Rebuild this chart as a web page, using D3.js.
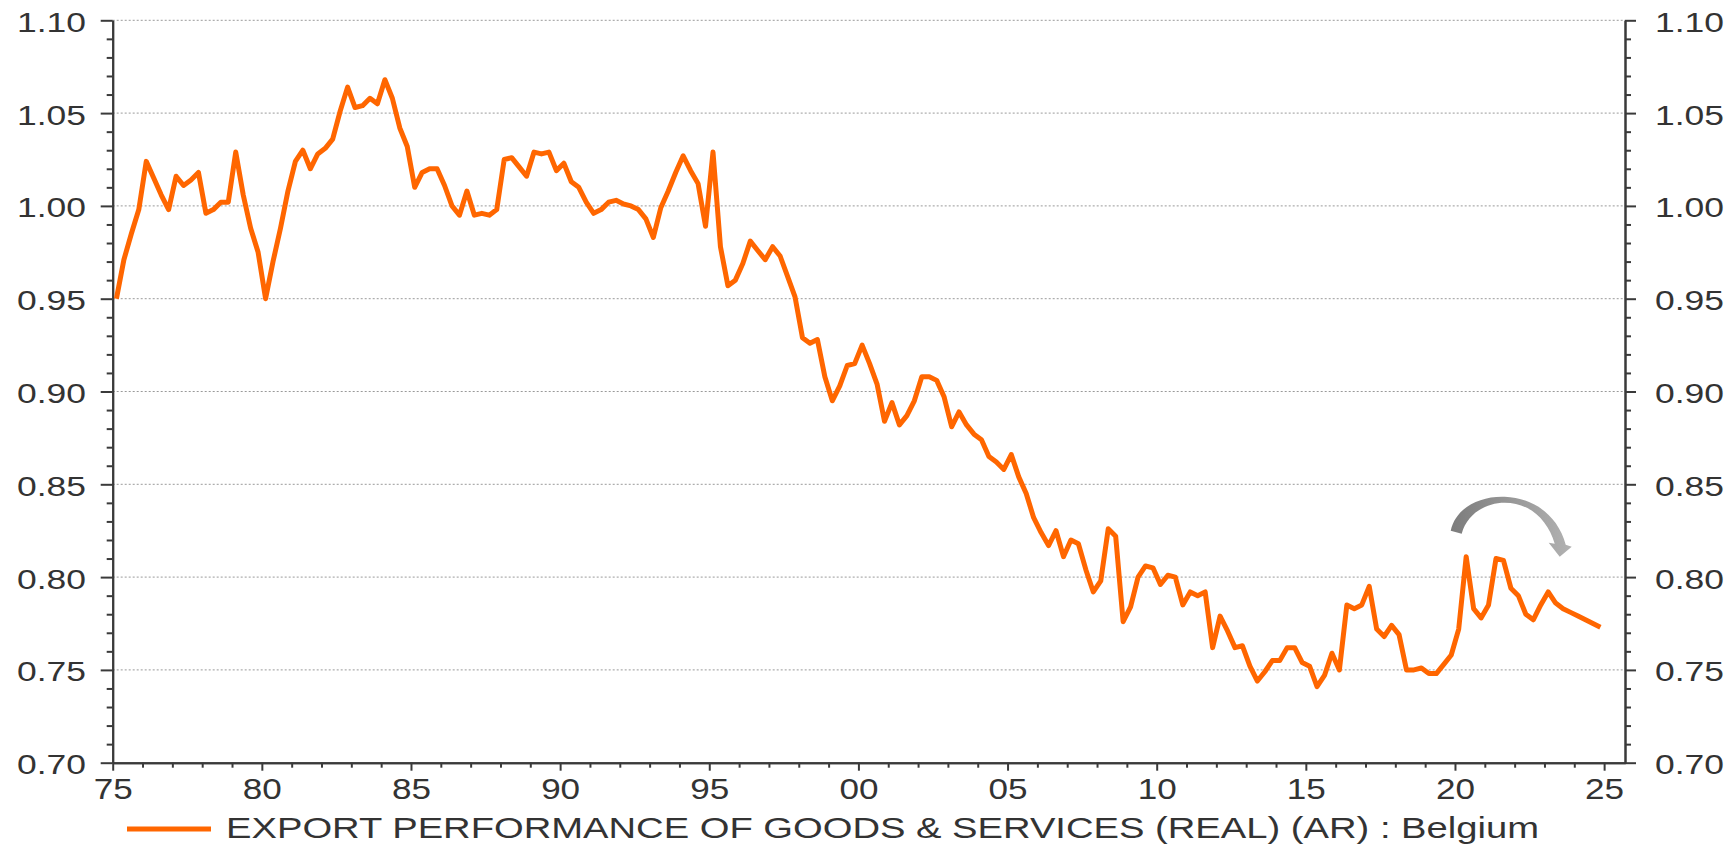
<!DOCTYPE html>
<html>
<head>
<meta charset="utf-8">
<script src="https://cdn.jsdelivr.net/npm/d3@7"></script>
<style>
  body { margin: 0; background: #fff; }
  svg { display: block; font-family: "Liberation Sans", Arial, Helvetica, sans-serif; }
</style>
</head>
<body>
<div id="plot"></div>
<script>
// quarterly values, one array per decade (Q1..Q4 of each year)
const values1975 = [
  0.950, 0.971, 0.985, 0.998,  1.024, 1.015, 1.006, 0.998,  1.016, 1.011, 1.014, 1.018,
  0.996, 0.998, 1.002, 1.002,  1.029, 1.006, 0.988, 0.975,  0.950, 0.970, 0.988, 1.008,
  1.024, 1.030, 1.020, 1.028,  1.031, 1.036, 1.051, 1.064,  1.053, 1.054, 1.058, 1.055,
  1.068, 1.058, 1.042, 1.032
];
const values1985 = [
  1.010, 1.018, 1.020, 1.020,  1.011, 1.000, 0.995, 1.008,  0.995, 0.996, 0.995, 0.998,
  1.025, 1.026, 1.021, 1.016,  1.029, 1.028, 1.029, 1.019,  1.023, 1.013, 1.010, 1.002,
  0.996, 0.998, 1.002, 1.003,  1.001, 1.000, 0.998, 0.993,  0.983, 0.999, 1.008, 1.018,
  1.027, 1.019, 1.012, 0.989
];
const values1995 = [
  1.029, 0.978, 0.957, 0.960,  0.969, 0.981, 0.976, 0.971,  0.978, 0.973, 0.962, 0.951,
  0.929, 0.926, 0.928, 0.908,  0.895, 0.903, 0.914, 0.915,  0.925, 0.915, 0.904, 0.884,
  0.894, 0.882, 0.887, 0.895,  0.908, 0.908, 0.906, 0.897,  0.881, 0.889, 0.882, 0.877,
  0.874, 0.865, 0.862, 0.858
];
const values2005 = [
  0.866, 0.854, 0.845, 0.832,  0.824, 0.817, 0.825, 0.811,  0.820, 0.818, 0.804, 0.792,
  0.798, 0.826, 0.822, 0.776,  0.784, 0.800, 0.806, 0.805,  0.796, 0.801, 0.800, 0.785,
  0.792, 0.790, 0.792, 0.762,  0.779, 0.771, 0.762, 0.763,  0.752, 0.744, 0.749, 0.755,
  0.755, 0.762, 0.762, 0.754
];
const values2015 = [
  0.752, 0.741, 0.747, 0.759,  0.750, 0.785, 0.783, 0.785,  0.795, 0.772, 0.768, 0.774,
  0.769, 0.750, 0.750, 0.751,  0.748, 0.748, 0.753, 0.758,  0.772, 0.811, 0.783, 0.778,
  0.785, 0.810, 0.809, 0.794,  0.790, 0.780, 0.777, 0.785,  0.792, 0.786, 0.783, 0.781,
  0.779, 0.777, 0.775, 0.773
];
const firstYear = 1975;
const seriesName = "EXPORT PERFORMANCE OF GOODS & SERVICES (REAL) (AR) : Belgium";

const yMajorTicks = [0.70, 0.75, 0.80, 0.85, 0.90, 0.95, 1.00, 1.05, 1.10];
const xMajorTicks = [1975, 1980, 1985, 1990, 1995, 2000, 2005, 2010, 2015, 2020, 2025];
const xTickLabels = ["75", "80", "85", "90", "95", "00", "05", "10", "15", "20", "25"];

const w = 1735;
const h = 845;
const plotLeft = 112.7, plotRight = 1625, plotTop = 20.3, plotBottom = 762.7;
const axisColor = "#3a3a3a";
const textColor = "#333";
const lineColor = "#ff6600";

// dataset: each quarter plotted at mid-quarter
const allValues = [].concat(values1975, values1985, values1995, values2005, values2015);
const data = allValues.map((v, i) => ({ t: firstYear + (i + 0.5) / 4, v: v }));

const x = d3.scaleLinear().domain([1975, 2025.7]).range([plotLeft, plotRight]);
const y = d3.scaleLinear().domain([0.70, 1.10]).range([plotBottom, plotTop]);

const svg = d3.select("#plot")
  .append("svg")
  .attr("width", w)
  .attr("height", h);

//---------------------------grid---------------------------
svg.append("g")
  .selectAll("line")
  .data(yMajorTicks.filter(d => d > 0.70))
  .enter()
  .append("line")
  .attr("x1", plotLeft)
  .attr("x2", plotRight)
  .attr("y1", d => y(d))
  .attr("y2", d => y(d))
  .attr("stroke", "#9a9a9a")
  .attr("stroke-width", 1)
  .attr("stroke-dasharray", "2,2");

//---------------------------axes---------------------------
const yMinor = d3.range(70, 111).map(d => d / 100).filter(d => Math.round(d * 100) % 5 !== 0);
const xMinor = d3.range(1975, 2026).filter(d => d % 5 !== 0);

function styleAxis(g) {
  g.attr("font-family", null).attr("font-size", null);
  g.selectAll("path, line").attr("stroke", axisColor).attr("stroke-width", 2);
  g.selectAll("text").attr("fill", textColor);
}

// left
svg.append("g")
  .attr("transform", "translate(" + plotLeft + ",0)")
  .call(d3.axisLeft(y).tickValues(yMinor).tickSize(6).tickFormat("").tickSizeOuter(0))
  .call(styleAxis);
const yLeft = svg.append("g")
  .attr("transform", "translate(" + plotLeft + ",0)")
  .call(d3.axisLeft(y).tickValues(yMajorTicks).tickSize(12).tickPadding(14.7)
    .tickFormat(d3.format(".2f")).tickSizeOuter(0))
  .call(styleAxis);
yLeft.selectAll("text")
  .attr("font-size", 28)
  .attr("dy", "0.39em")
  .attr("textLength", 69)
  .attr("lengthAdjust", "spacingAndGlyphs");

// right
svg.append("g")
  .attr("transform", "translate(" + plotRight + ",0)")
  .call(d3.axisRight(y).tickValues(yMinor).tickSize(6).tickFormat("").tickSizeOuter(0))
  .call(styleAxis);
const yRight = svg.append("g")
  .attr("transform", "translate(" + plotRight + ",0)")
  .call(d3.axisRight(y).tickValues(yMajorTicks).tickSize(11).tickPadding(19)
    .tickFormat(d3.format(".2f")).tickSizeOuter(0))
  .call(styleAxis);
yRight.selectAll("text")
  .attr("font-size", 28)
  .attr("dy", "0.39em")
  .attr("textLength", 69)
  .attr("lengthAdjust", "spacingAndGlyphs");

// bottom
svg.append("g")
  .attr("transform", "translate(0," + plotBottom + ")")
  .call(d3.axisBottom(x).tickValues(xMinor).tickSize(5).tickFormat("").tickSizeOuter(0))
  .call(styleAxis);
const xAxis = svg.append("g")
  .attr("transform", "translate(0," + plotBottom + ")")
  .call(d3.axisBottom(x).tickValues(xMajorTicks).tickSize(8)
    .tickFormat((d, i) => xTickLabels[i]).tickSizeOuter(0))
  .call(styleAxis);
xAxis.selectAll("text")
  .attr("font-size", 30)
  .attr("y", 36.3)
  .attr("dy", 0)
  .attr("textLength", 39)
  .attr("lengthAdjust", "spacingAndGlyphs");

//---------------------------line---------------------------
const line = d3.line()
  .x(d => x(d.t))
  .y(d => y(d.v));

svg.append("path")
  .datum(data)
  .attr("fill", "none")
  .attr("stroke", lineColor)
  .attr("stroke-width", 5)
  .attr("stroke-linejoin", "round")
  .attr("d", line);

//---------------------------arrow annotation---------------------------
const defs = svg.append("defs");
const grad = defs.append("linearGradient")
  .attr("id", "arrowGrad")
  .attr("x1", "0%").attr("x2", "100%")
  .attr("y1", "0%").attr("y2", "0%");
grad.append("stop").attr("offset", "0%").attr("stop-color", "#7c7c7c");
grad.append("stop").attr("offset", "100%").attr("stop-color", "#b2b2b2");

svg.append("path")
  .attr("transform", "translate(" + x(2021.5) + "," + y(0.825) + ")")
  .attr("fill", "url(#arrowGrad)")
  .attr("d", "M-49,0 C-44,-23 -20,-35 5,-34 C33,-33 58,-16 66,14 L72,16 L60,26 L49,12 L55,13 " +
             "C48,-11 30,-28 5,-28 C-15,-28 -33,-16 -38,3 Z");

//---------------------------legend---------------------------
const legend = svg.append("g").attr("transform", "translate(127,829)");
legend.append("line")
  .attr("x1", 0).attr("x2", 84)
  .attr("y1", 0).attr("y2", 0)
  .attr("stroke", lineColor)
  .attr("stroke-width", 5);
legend.append("text")
  .attr("x", 99)
  .attr("y", 9)
  .attr("font-size", 29)
  .attr("fill", textColor)
  .attr("textLength", 1313)
  .attr("lengthAdjust", "spacingAndGlyphs")
  .text(seriesName);
</script>
</body>
</html>
